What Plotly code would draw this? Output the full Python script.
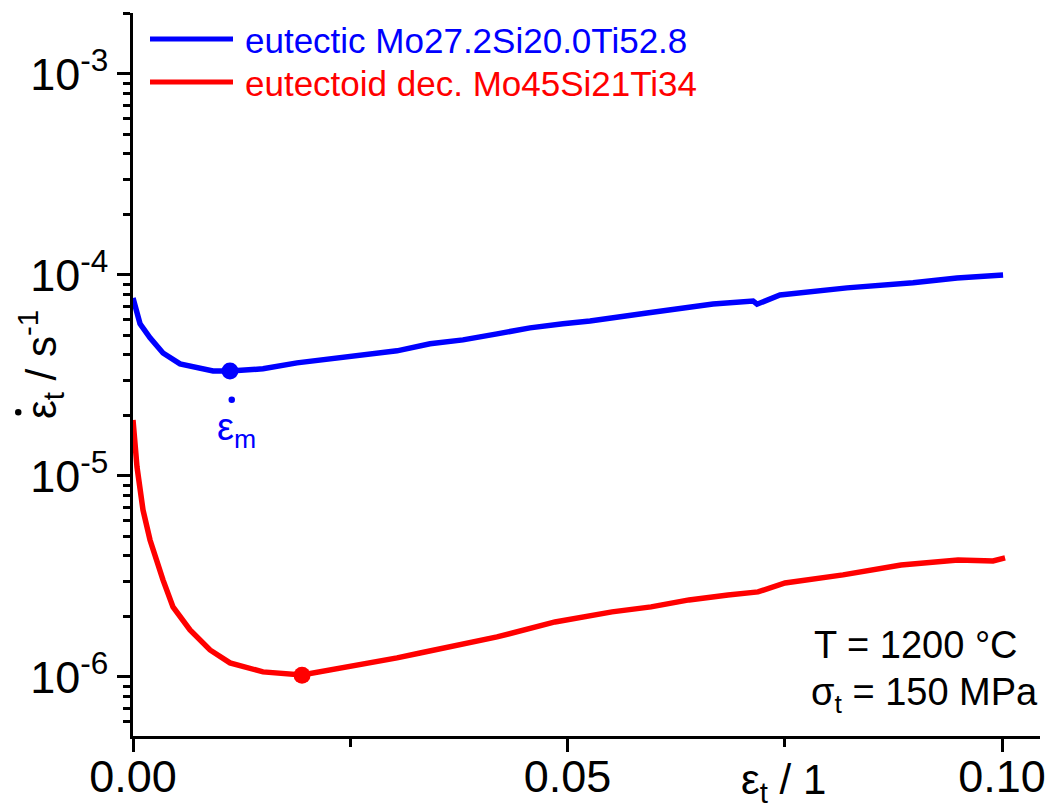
import plotly.graph_objects as go

# ---- data ----
blue_x = [0.0, 0.00081, 0.00196, 0.00345, 0.00541, 0.00736, 0.00921, 0.01116, 0.01496, 0.01887,
          0.02267, 0.02647, 0.03038, 0.03418, 0.03797, 0.04189, 0.04568, 0.04948, 0.05259, 0.05915,
          0.06674, 0.07135, 0.07181, 0.07445, 0.08216, 0.08976, 0.09482, 0.10012]
blue_y = [7.68e-5, 5.71e-5, 4.86e-5, 4.09e-5, 3.61e-5, 3.45e-5, 3.33e-5, 3.33e-5, 3.41e-5, 3.65e-5,
          3.82e-5, 4.05e-5, 4.19e-5, 4.54e-5, 4.75e-5, 5.09e-5, 5.45e-5, 5.71e-5, 5.9e-5, 6.47e-5,
          7.17e-5, 7.42e-5, 7.15e-5, 7.95e-5, 8.62e-5, 9.13e-5, 9.66e-5, 1.0e-4]

red_x = [0.0, 0.00046, 0.00115, 0.00196, 0.00345, 0.0046, 0.00656, 0.00886, 0.01116, 0.01496,
         0.01945, 0.02267, 0.02647, 0.03038, 0.03303, 0.03613, 0.04189, 0.04856, 0.05512, 0.05961,
         0.06398, 0.06847, 0.07192, 0.07503, 0.0817, 0.08838, 0.09494, 0.09896, 0.10035]
red_y = [1.90e-5, 1.108e-5, 6.77e-6, 4.80e-6, 3.04e-6, 2.23e-6, 1.713e-6, 1.362e-6, 1.174e-6, 1.059e-6,
         1.023e-6, 1.083e-6, 1.147e-6, 1.243e-6, 1.316e-6, 1.410e-6, 1.581e-6, 1.877e-6, 2.106e-6, 2.23e-6,
         2.416e-6, 2.558e-6, 2.648e-6, 2.935e-6, 3.218e-6, 3.607e-6, 3.82e-6, 3.776e-6, 3.91e-6]

blue_min = (0.01116, 3.33e-5)
red_min = (0.01945, 1.02e-6)

series_names = ["eutectic Mo27.2Si20.0Ti52.8", "eutectoid dec. Mo45Si21Ti34"]
series_colors = ["#0000ff", "#ff0000"]

x_tickvals = [0.0, 0.05, 0.10]
x_ticktext = ["0.00", "0.05", "0.10"]
y_tickvals = [1e-6, 1e-5, 1e-4, 1e-3]
y_ticktext = ["10<sup>-6</sup>", "10<sup>-5</sup>", "10<sup>-4</sup>", "10<sup>-3</sup>"]

FONT = "Liberation Sans, Arial, sans-serif"

fig = go.Figure()
fig.add_trace(go.Scatter(x=blue_x, y=blue_y, mode="lines", line=dict(color=series_colors[0], width=5.5),
                         name=series_names[0], showlegend=False))
fig.add_trace(go.Scatter(x=red_x, y=red_y, mode="lines", line=dict(color=series_colors[1], width=5.5),
                         name=series_names[1], showlegend=False))
fig.add_trace(go.Scatter(x=[blue_min[0]], y=[blue_min[1]], mode="markers",
                         marker=dict(color=series_colors[0], size=17), showlegend=False))
fig.add_trace(go.Scatter(x=[red_min[0]], y=[red_min[1]], mode="markers",
                         marker=dict(color=series_colors[1], size=17), showlegend=False))

W, H = 1052, 812
ml, mr, mt, mb = 133, 12, 13, 76
pw, ph = W - ml - mr, H - mt - mb

def px_x(px):
    return (px - ml) / pw

def px_y(py):
    return (H - mb - py) / ph

# manual legend
for i, (name, col) in enumerate(zip(series_names, series_colors)):
    yy = [39, 82][i]
    fig.add_shape(type="line", xref="paper", yref="paper", x0=px_x(150), x1=px_x(233),
                  y0=px_y(yy), y1=px_y(yy), line=dict(color=col, width=5))
    fig.add_annotation(xref="paper", yref="paper", x=px_x(243), y=px_y(yy + 2), text=name,
                       showarrow=False, xanchor="left", yanchor="middle",
                       font=dict(family=FONT, size=35, color=col))

# epsilon_m label (dot drawn separately)
fig.add_annotation(xref="paper", yref="paper", x=px_x(236), y=px_y(430),
                   text="ε<sub>m</sub>", showarrow=False, xanchor="center", yanchor="middle",
                   font=dict(family=FONT, size=38, color="#0000ff"))
fig.add_shape(type="circle", xref="paper", yref="paper",
              x0=px_x(228.5), x1=px_x(235), y0=px_y(396.5), y1=px_y(403),
              fillcolor="#0000ff", line=dict(width=0))

# conditions
fig.add_annotation(xref="paper", yref="paper", x=px_x(1020), y=px_y(645),
                   text="T = 1200 °C", showarrow=False, xanchor="right", yanchor="middle",
                   font=dict(family=FONT, size=38, color="black"))
fig.add_annotation(xref="paper", yref="paper", x=px_x(1040), y=px_y(695),
                   text="σ<sub>t</sub> = 150 MPa", showarrow=False, xanchor="right", yanchor="middle",
                   font=dict(family=FONT, size=38, color="black"))

# axis titles
fig.add_annotation(xref="paper", yref="paper", x=px_x(40), y=px_y(365),
                   text="ε<sub>t</sub> / s<sup>-1</sup>", showarrow=False, textangle=-90,
                   xanchor="center", yanchor="middle",
                   font=dict(family=FONT, size=42, color="black"))
fig.add_shape(type="circle", xref="paper", yref="paper",
              x0=px_x(15), x1=px_x(21.5), y0=px_y(409), y1=px_y(415.5),
              fillcolor="black", line=dict(width=0))
fig.add_annotation(xref="paper", yref="paper", x=px_x(783), y=px_y(782),
                   text="ε<sub>t</sub> / 1", showarrow=False,
                   xanchor="center", yanchor="middle",
                   font=dict(family=FONT, size=42, color="black"))

fig.update_layout(
    width=W, height=H,
    margin=dict(l=ml, r=mr, t=mt, b=mb, pad=0, autoexpand=False),
    plot_bgcolor="white", paper_bgcolor="white",
    font=dict(family=FONT, color="black"),
    showlegend=False,
)
fig.update_xaxes(range=[0, 0.10437], showgrid=False, zeroline=False, automargin=False,
                 showline=True, linecolor="black", linewidth=2.5,
                 ticks="outside", ticklen=13, tickwidth=2.5, tickcolor="black",
                 tickvals=x_tickvals, ticktext=x_ticktext, ticklabelstandoff=-14,
                 tickfont=dict(family=FONT, size=45, color="black"),
                 minor=dict(ticks="outside", ticklen=8, tickwidth=2.5, tickcolor="black",
                            tickvals=[0.025, 0.075], showgrid=False))
fig.update_yaxes(type="log", range=[-6.294, -2.697], showgrid=False, zeroline=False, automargin=False,
                 showline=True, linecolor="black", linewidth=2.5,
                 ticks="outside", ticklen=13, tickwidth=2.5, tickcolor="black",
                 tickvals=y_tickvals, ticktext=y_ticktext,
                 tickfont=dict(family=FONT, size=45, color="black"),
                 minor=dict(ticks="outside", ticklen=7, tickwidth=2.5, tickcolor="black",
                            dtick="D1", showgrid=False))

fig.write_html("out.html")
